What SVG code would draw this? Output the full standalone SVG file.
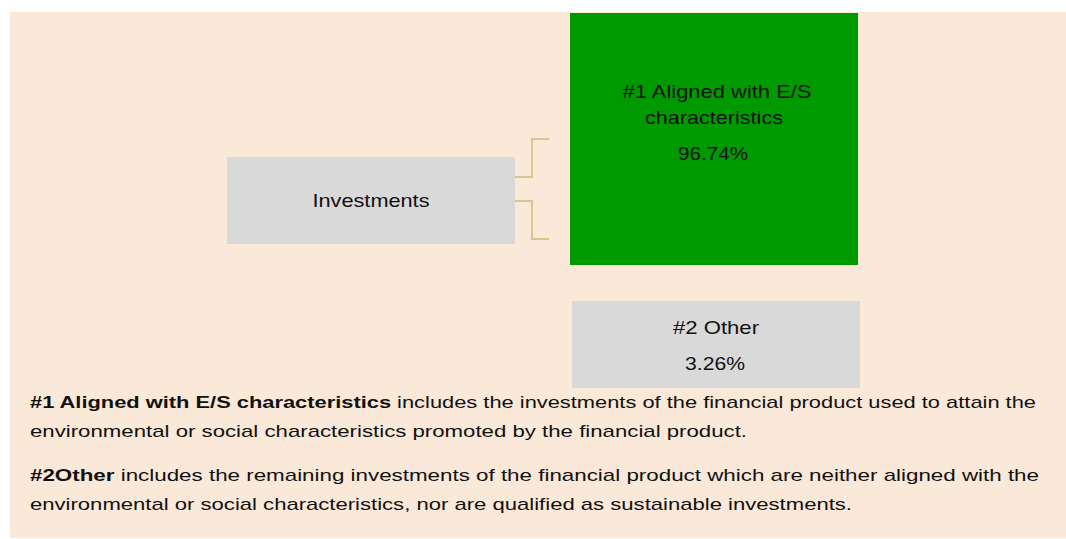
<svg xmlns="http://www.w3.org/2000/svg" width="1066" height="539" viewBox="0 0 1066 539">
<style>
.t{font-family:"Liberation Sans",Arial,sans-serif;fill:#111;}
.c{font-size:19px;text-anchor:middle;}
.b{font-size:17px;}
.conn{fill:none;stroke:#d6c98f;stroke-width:2;}
</style>
<rect x="0" y="0" width="1066" height="539" fill="#ffffff"/>
<rect x="10" y="12" width="1056" height="526" fill="#fae8d8"/>
<g id="connectors">
<path class="conn" d="M515,177 H532 V139 H549"/>
<path class="conn" d="M515,201 H532 V239 H549"/>
</g>
<g id="investments">
<rect x="227" y="157" width="288" height="87" fill="#d9d9d9"/>
<text class="t c" x="371" y="207" textLength="117" lengthAdjust="spacingAndGlyphs">Investments</text>
</g>
<g id="aligned">
<rect x="570" y="13" width="288" height="252" fill="#009900"/>
<text class="t c" x="717" y="98" textLength="189" lengthAdjust="spacingAndGlyphs">#1 Aligned with E/S</text>
<text class="t c" x="714" y="124" textLength="138" lengthAdjust="spacingAndGlyphs">characteristics</text>
<text class="t c" x="713" y="160" textLength="70" lengthAdjust="spacingAndGlyphs">96.74%</text>
</g>
<g id="other">
<rect x="572" y="301" width="288" height="87" fill="#d9d9d9"/>
<text class="t c" x="716" y="334" textLength="86" lengthAdjust="spacingAndGlyphs">#2 Other</text>
<text class="t c" x="715" y="370" textLength="60" lengthAdjust="spacingAndGlyphs">3.26%</text>
</g>
<g id="legend">
<text class="t b" x="30" y="408" textLength="1006" lengthAdjust="spacingAndGlyphs"><tspan font-weight="bold">#1 Aligned with E/S characteristics</tspan> includes the investments of the financial product used to attain the</text>
<text class="t b" x="30" y="437" textLength="717" lengthAdjust="spacingAndGlyphs">environmental or social characteristics promoted by the financial product.</text>
<text class="t b" x="30" y="481" textLength="1009" lengthAdjust="spacingAndGlyphs"><tspan font-weight="bold">#2Other</tspan> includes the remaining investments of the financial product which are neither aligned with the</text>
<text class="t b" x="30" y="510" textLength="822" lengthAdjust="spacingAndGlyphs">environmental or social characteristics, nor are qualified as sustainable investments.</text>
</g>
</svg>
